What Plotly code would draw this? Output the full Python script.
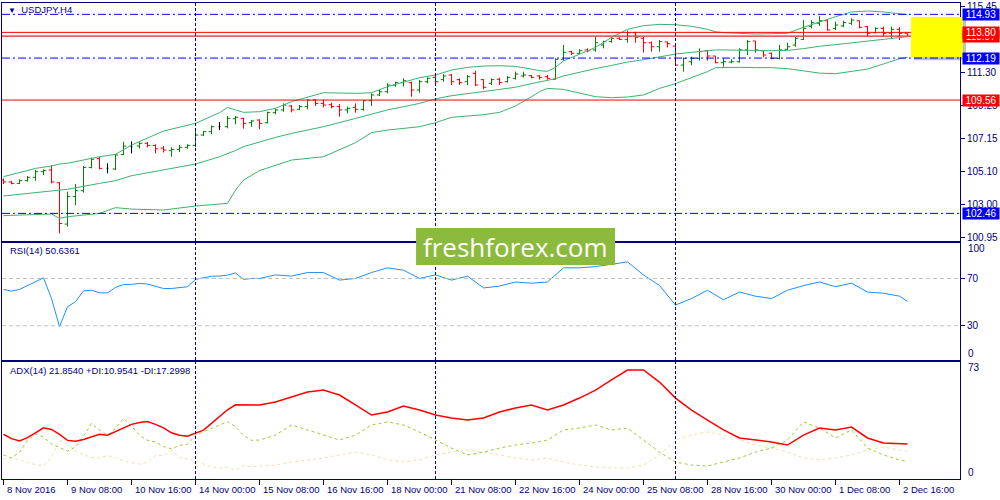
import plotly.graph_objects as go

# ---------------- data ----------------
x_labels = ["8 Nov 2016", "9 Nov 08:00", "10 Nov 16:00", "14 Nov 00:00", "15 Nov 08:00",
            "16 Nov 16:00", "18 Nov 00:00", "21 Nov 08:00", "22 Nov 16:00", "24 Nov 00:00",
            "25 Nov 08:00", "28 Nov 16:00", "30 Nov 00:00", "1 Dec 08:00", "2 Dec 16:00"]
x_label_bars = [0, 8, 16, 24, 32, 40, 48, 56, 64, 72, 80, 88, 96, 104, 112]
week_separators = [24, 54, 84]

opens = [104.55, 104.43, 104.34, 104.51, 104.72, 105.07, 105.18, 104.38, 101.79, 103.51,
         103.88, 105.34, 105.89, 105.29, 105.24, 106.14, 106.64, 106.68, 106.85, 106.72,
         106.55, 106.39, 106.47, 106.60, 106.72, 107.37, 107.58, 107.89, 107.89, 108.39,
         108.41, 108.14, 108.31, 108.14, 108.77, 108.94, 109.19, 108.98, 109.15, 109.56,
         109.35, 109.27, 109.15, 108.94, 109.10, 108.98, 109.52, 109.88, 110.08, 110.50,
         110.65, 110.65, 110.19, 110.71, 110.98, 110.84, 111.13, 110.84, 110.71, 111.23,
         110.84, 110.61, 110.86, 110.71, 110.92, 111.07, 111.09, 111.07, 111.02, 110.86,
         112.11, 112.59, 112.49, 112.70, 112.70, 113.01, 113.22, 113.43, 113.36, 113.78,
         113.43, 113.15, 112.90, 113.20, 112.94, 111.75, 111.96, 112.17, 112.65, 112.32,
         111.90, 111.94, 111.96, 112.70, 113.26, 112.65, 112.49, 112.17, 112.74, 113.01,
         113.36, 114.16, 114.37, 114.53, 114.05, 114.20, 114.37, 114.53, 114.16, 113.78,
         114.05, 113.74, 113.99, 113.74]
highs = [104.65, 104.49, 104.59, 104.80, 105.18, 105.22, 105.47, 104.43, 103.82, 104.30,
         105.43, 105.95, 106.01, 105.60, 106.18, 106.95, 106.97, 106.92, 106.93, 106.79,
         106.68, 106.60, 106.74, 106.79, 107.68, 107.62, 107.97, 108.18, 108.56, 108.56,
         108.46, 108.31, 108.35, 108.83, 109.04, 109.35, 109.25, 109.25, 109.60, 109.63,
         109.60, 109.40, 109.31, 109.15, 109.35, 109.56, 109.98, 110.19, 110.61, 110.71,
         110.92, 110.71, 110.82, 110.98, 111.07, 111.19, 111.19, 110.92, 111.13, 111.40,
         110.86, 110.92, 110.96, 111.07, 111.34, 111.34, 111.13, 111.13, 111.13, 112.17,
         113.01, 112.65, 112.74, 112.80, 113.53, 113.28, 113.49, 113.49, 113.91, 113.84,
         113.53, 113.22, 113.32, 113.22, 113.01, 112.23, 112.28, 112.80, 112.70, 112.32,
         112.17, 112.11, 112.80, 113.32, 113.26, 112.70, 112.53, 113.01, 113.15, 113.53,
         114.57, 114.57, 114.83, 114.57, 114.47, 114.53, 114.68, 114.53, 114.20, 114.12,
         114.16, 114.16, 114.12, 113.74]
lows = [104.30, 104.28, 104.30, 104.45, 104.51, 104.86, 104.34, 101.21, 101.63, 102.98,
        103.76, 105.28, 105.22, 104.97, 105.18, 106.12, 106.22, 106.53, 106.60, 106.22,
        106.28, 106.01, 106.30, 106.51, 106.60, 107.31, 107.43, 107.68, 107.79, 108.04,
        107.77, 107.89, 107.73, 108.10, 108.67, 108.83, 108.79, 108.94, 108.98, 109.19,
        109.10, 109.04, 108.52, 108.73, 108.77, 108.89, 109.19, 109.81, 109.98, 110.40,
        110.40, 109.77, 110.02, 110.61, 110.61, 110.71, 110.50, 110.50, 110.50, 110.44,
        110.23, 110.50, 110.50, 110.65, 110.84, 110.98, 110.92, 110.84, 110.84, 110.84,
        112.03, 112.38, 112.44, 112.55, 112.59, 112.80, 113.15, 113.32, 113.15, 113.15,
        112.53, 112.59, 112.59, 112.86, 111.69, 111.34, 111.75, 112.03, 112.03, 111.86,
        111.65, 111.86, 111.90, 112.38, 112.53, 112.23, 112.11, 112.11, 112.70, 112.90,
        113.32, 114.05, 114.20, 113.91, 113.95, 114.12, 114.26, 114.05, 113.57, 113.74,
        113.57, 113.43, 113.32, 113.53]
closes = [104.43, 104.34, 104.51, 104.72, 105.07, 105.14, 104.43, 101.83, 103.51, 103.88,
          105.34, 105.85, 105.28, 105.29, 106.12, 106.68, 106.64, 106.85, 106.72, 106.51,
          106.43, 106.47, 106.60, 106.72, 107.37, 107.58, 107.89, 107.89, 108.41, 108.48,
          108.10, 108.25, 108.10, 108.77, 108.94, 109.25, 108.94, 109.15, 109.56, 109.35,
          109.25, 109.15, 108.94, 109.04, 108.98, 109.52, 109.88, 110.08, 110.50, 110.65,
          110.77, 110.19, 110.71, 110.92, 110.71, 111.07, 110.71, 110.65, 111.02, 110.50,
          110.36, 110.84, 110.65, 110.98, 111.19, 111.13, 110.98, 110.98, 110.92, 112.11,
          112.55, 112.49, 112.65, 112.65, 113.15, 113.22, 113.43, 113.36, 113.78, 113.49,
          113.15, 112.90, 113.22, 113.09, 111.75, 112.17, 112.17, 112.59, 112.32, 111.90,
          111.96, 111.96, 112.70, 113.22, 112.70, 112.38, 112.17, 112.70, 112.90, 113.43,
          114.05, 114.41, 114.53, 113.95, 114.26, 114.41, 114.57, 114.12, 113.74, 114.05,
          113.74, 113.99, 113.74, 113.55]

band_bars = [0, 4, 6, 7, 8, 12, 14, 16, 20, 24, 27, 28, 29, 30, 32, 34, 36, 40, 44, 46, 48,
             52, 54, 56, 58, 60, 62, 64, 66, 67, 68, 69, 70, 72, 74, 76, 78, 80, 82, 84, 86,
             88, 89, 90, 92, 94, 96, 98, 100, 102, 104, 106, 108, 110, 112, 113]
band_upper = [104.76, 105.28, 105.43, 105.55, 105.60, 106.01, 106.16, 106.74, 107.62, 108.10,
              108.77, 109.10, 108.94, 108.79, 108.83, 109.04, 109.46, 110.02, 109.98, 110.02,
              110.40, 110.96, 111.13, 111.44, 111.61, 111.69, 111.71, 111.67, 111.50, 111.40,
              111.36, 111.61, 112.01, 112.44, 112.86, 113.49, 113.99, 114.22, 114.30, 114.28,
              114.18, 113.99, 113.84, 113.78, 113.72, 113.70, 113.72, 113.74, 114.12, 114.47,
              114.78, 115.08, 115.14, 115.08, 114.95, 114.91]
band_middle = [103.55, 103.76, 103.88, 103.92, 103.97, 104.34, 104.51, 104.82, 105.18, 105.55,
               106.01, 106.18, 106.40, 106.64, 106.95, 107.22, 107.47, 107.89, 108.41, 108.69,
               108.94, 109.35, 109.64, 109.83, 109.96, 110.06, 110.20, 110.36, 110.59, 110.69,
               110.80, 110.90, 111.07, 111.32, 111.53, 111.73, 111.94, 112.09, 112.28, 112.44,
               112.55, 112.65, 112.70, 112.70, 112.70, 112.67, 112.65, 112.67, 112.78, 112.93,
               113.03, 113.15, 113.24, 113.38, 113.49, 113.53]
band_lower = [102.32, 102.36, 102.42, 102.15, 102.25, 102.46, 102.82, 102.73, 102.67, 102.92,
              103.05, 103.09, 103.92, 104.55, 105.14, 105.49, 105.80, 106.01, 106.89, 107.52,
              107.68, 107.89, 108.14, 108.48, 108.56, 108.64, 108.79, 109.19, 109.77, 110.09,
              110.29, 110.27, 110.23, 110.00, 109.77, 109.71, 109.75, 109.88, 110.29, 110.59,
              110.98, 111.34, 111.59, 111.61, 111.61, 111.59, 111.59, 111.53, 111.40, 111.25,
              111.21, 111.36, 111.50, 111.82, 112.15, 112.24]

rsi_bars = list(range(0, 32)) + list(range(32, 113, 2)) + [113]
rsi_vals = [60.7, 59.3, 60.7, 63.8, 67.1, 70.5, 53.1, 29.2, 46.1, 50.3,
            59.5, 60.1, 57.8, 57.8, 62.4, 64.9, 65.0, 65.8, 65.3, 63.5,
            61.5, 61.5, 62.4, 63.0, 69.2, 70.8, 71.9, 72.0, 72.8, 74.7, 69.2, 70.0,
            70.0, 73.0, 72.0, 75.0, 75.0, 68.6, 70.0, 75.0, 79.0, 77.0,
            70.0, 73.0, 68.6, 72.0, 62.0, 63.5, 67.0, 66.0, 67.0, 79.0,
            79.0, 80.0, 82.0, 84.0, 73.0, 64.0, 47.5, 53.0, 60.0, 52.0,
            58.5, 55.0, 53.0, 60.0, 64.0, 67.0, 63.0, 66.0, 58.5, 57.5, 55.0, 50.6]

adx_bars = list(range(0, 32)) + list(range(32, 113, 2)) + [113]
adx_vals = [27.9, 25.2, 23.7, 25.8, 28.8, 31.9, 30.9, 27.9, 24.1, 23.5,
            24.6, 26.2, 27.9, 27.3, 29.4, 31.5, 34.1, 35.3, 35.8, 34.1,
            31.9, 28.8, 27.3, 26.7, 28.8, 30.5, 34.7, 38.9, 43.2, 46.3, 46.3, 46.3,
            46.2, 48.0, 51.2, 54.3, 55.5, 52.4, 46.2, 39.9, 41.8, 45.5,
            43.0, 39.9, 38.1, 36.8, 38.1, 41.8, 44.3, 46.2, 43.0, 46.2,
            50.5, 55.5, 61.8, 68.0, 68.0, 60.5, 50.5, 43.0, 36.8, 30.6,
            25.6, 24.3, 23.1, 21.2, 27.4, 31.8, 30.6, 32.4, 25.6, 22.5, 21.8, 21.85]
pdi_vals = [15.0, 13.1, 16.7, 24.1, 27.9, 26.2, 22.0, 19.5, 17.4, 19.9,
            26.7, 34.7, 30.5, 27.3, 31.5, 37.9, 33.0, 27.3, 24.1, 23.1,
            20.3, 18.8, 21.0, 21.6, 27.3, 29.4, 31.5, 33.7, 35.8, 32.6, 27.3, 24.1,
            24.3, 27.4, 33.7, 30.6, 27.4, 24.3, 27.4, 33.7, 35.6, 33.7,
            29.3, 24.3, 19.3, 15.0, 16.8, 19.3, 21.2, 22.5, 24.3, 30.6,
            31.8, 33.7, 30.6, 31.8, 24.3, 16.8, 10.6, 8.7, 8.1, 10.6,
            13.1, 16.8, 19.3, 24.3, 35.6, 31.8, 25.6, 30.6, 19.3, 15.0, 11.9, 10.95]
mdi_vals = [12.5, 13.5, 11.9, 10.4, 8.9, 8.3, 13.5, 24.1, 22.0, 17.8,
            15.2, 13.5, 13.1, 14.6, 13.5, 11.4, 10.4, 9.3, 10.4, 14.6,
            14.6, 17.8, 13.5, 12.5, 11.4, 9.3, 7.6, 6.8, 7.2, 5.5, 8.3, 7.6,
            8.1, 8.7, 10.6, 11.9, 13.1, 15.0, 16.8, 15.0, 11.9, 10.6,
            11.9, 15.0, 16.8, 18.1, 16.8, 15.0, 13.1, 11.9, 13.1, 10.6,
            8.7, 7.5, 6.9, 6.9, 8.7, 15.0, 24.3, 27.4, 29.3, 27.4,
            24.3, 21.2, 19.3, 16.8, 13.1, 11.9, 13.1, 15.0, 18.1, 20.0, 18.1, 17.3]

price_ticks = [115.45, 113.40, 111.30, 109.25, 107.15, 105.10, 103.00, 100.95]
blue_levels = [114.93, 112.19, 102.46]
red_levels = [113.57, 113.80, 109.56]
bid_price = 113.54
zone_low, zone_high = 112.26, 114.76

# ---------------- style ----------------
NAVY = "#000080"
FONT = "Liberation Sans"
GREEN_BAR = "#0A7D0A"
RED_BAR = "#FF0000"
BAND = "#3CB371"
XR = [-0.1875, 119.5625]

fig = go.Figure()

n = len(opens)
up = [i for i in range(n) if closes[i] > opens[i]]
dn = [i for i in range(n) if closes[i] < opens[i]]
dj = [i for i in range(n) if closes[i] == opens[i]]


def ohlc_trace(sel, color, tw):
    return go.Ohlc(x=sel, open=[opens[i] for i in sel], high=[highs[i] for i in sel],
                   low=[lows[i] for i in sel], close=[closes[i] for i in sel],
                   increasing=dict(line=dict(color=color, width=1)),
                   decreasing=dict(line=dict(color=color, width=1)),
                   tickwidth=tw, xaxis="x", yaxis="y", hoverinfo="skip", showlegend=False)


for vals in (band_upper, band_middle, band_lower):
    fig.add_trace(go.Scatter(x=band_bars, y=vals, mode="lines", line=dict(color=BAND, width=1),
                             xaxis="x", yaxis="y", hoverinfo="skip", showlegend=False))
fig.add_trace(ohlc_trace(up, GREEN_BAR, 0.35))
fig.add_trace(ohlc_trace(dn, RED_BAR, 0.35))
fig.add_trace(ohlc_trace(dj, "#000000", 0.12))

fig.add_trace(go.Scatter(x=rsi_bars, y=rsi_vals, mode="lines", line=dict(color="#1E90FF", width=1),
                         xaxis="x2", yaxis="y2", hoverinfo="skip", showlegend=False))

fig.add_trace(go.Scatter(x=adx_bars, y=mdi_vals, mode="lines",
                         line=dict(color="#F5DEB3", width=1, dash="3px,3px"),
                         xaxis="x3", yaxis="y3", hoverinfo="skip", showlegend=False))
fig.add_trace(go.Scatter(x=adx_bars, y=pdi_vals, mode="lines",
                         line=dict(color="#9ACD32", width=1, dash="3px,3px"),
                         xaxis="x3", yaxis="y3", hoverinfo="skip", showlegend=False))
fig.add_trace(go.Scatter(x=adx_bars, y=adx_vals, mode="lines", line=dict(color="#FF0000", width=1.5),
                         xaxis="x3", yaxis="y3", hoverinfo="skip", showlegend=False))

# panel geometry (pixels -> paper)
H_TOP, H_BOT = 3, 479


def dom(top_px, bot_px):
    span = H_BOT - H_TOP
    return [(H_BOT - bot_px) / span, (H_BOT - top_px) / span]


axis_common = dict(showline=True, mirror=True, linecolor=NAVY, linewidth=1,
                   showgrid=False, zeroline=False, fixedrange=True)
tick_font = dict(family=FONT, size=10, color=NAVY)

fig.update_layout(
    width=1000, height=500, autosize=False,
    margin=dict(l=2, r=40, t=H_TOP, b=500 - H_BOT),
    paper_bgcolor="white", plot_bgcolor="white",
    font=dict(family=FONT, size=10, color=NAVY),
    showlegend=False,
    xaxis=dict(domain=[0, 1], range=XR, anchor="y", showticklabels=False, ticks="",
               rangeslider=dict(visible=False), **axis_common),
    yaxis=dict(domain=dom(3, 241), range=[100.73, 115.64], anchor="x", side="right",
               tickvals=price_ticks, ticktext=[f"{v:.2f}" for v in price_ticks],
               ticks="outside", ticklen=4, tickcolor=NAVY, tickfont=tick_font, **axis_common),
    xaxis2=dict(domain=[0, 1], range=XR, anchor="y2", showticklabels=False, ticks="", **axis_common),
    yaxis2=dict(domain=dom(243, 360), range=[1, 100], anchor="x2", side="right",
                tickvals=[70, 30], ticktext=["70", "30"], ticks="outside", ticklen=4, tickcolor=NAVY,
                tickfont=tick_font, **axis_common),
    xaxis3=dict(domain=[0, 1], range=XR, anchor="y3", showticklabels=False,
                tickvals=x_label_bars, ticks="outside", ticklen=5, tickcolor=NAVY, **axis_common),
    yaxis3=dict(domain=dom(362, 479), range=[0, 73], anchor="x3", side="right",
                tickvals=[], ticks="", **axis_common),
)

shapes = []
# weekly separators in each panel
for xa, ya in (("x", "y"), ("x2", "y2"), ("x3", "y3")):
    for b in week_separators:
        shapes.append(dict(type="line", xref=xa, yref=f"{ya} domain", x0=b, x1=b, y0=0, y1=1,
                           line=dict(color=NAVY, width=1, dash="3px,2px")))
# RSI levels
for lv in (70, 30):
    shapes.append(dict(type="line", xref="x2 domain", yref="y2", x0=0, x1=1, y0=lv, y1=lv,
                       line=dict(color="#C0C0C0", width=1, dash="4px,3px")))
# price levels
shapes.append(dict(type="line", xref="x domain", yref="y", x0=0, x1=1, y0=bid_price, y1=bid_price,
                   line=dict(color="#C8C8C8", width=1)))
for lv in blue_levels:
    shapes.append(dict(type="line", xref="x domain", yref="y", x0=0, x1=1, y0=lv, y1=lv,
                       line=dict(color="#0000FF", width=1, dash="8px,3px,2px,3px")))
for lv in red_levels:
    shapes.append(dict(type="line", xref="x domain", yref="y", x0=0, x1=1, y0=lv, y1=lv,
                       line=dict(color="#FF0000", width=1)))
# highlighted zone (with shadow)
shapes.append(dict(type="rect", xref="paper", yref="y", x0=0.9520, x1=1.0062,
                   y0=zone_low - 0.2, y1=zone_high - 0.17, fillcolor="rgba(0,0,0,0.25)",
                   line=dict(width=0)))
shapes.append(dict(type="rect", xref="paper", yref="y", x0=0.9489, x1=1.0031,
                   y0=zone_low, y1=zone_high, fillcolor="#FFFF00", line=dict(width=0)))
# watermark box
shapes.append(dict(type="rect", xref="paper", yref="paper", x0=0.4322, x1=0.6399,
                   y0=0.4496, y1=0.5273, fillcolor="#8CBA3C", line=dict(width=0), layer="above"))
fig.update_layout(shapes=shapes)

ann = []
for b, t in zip(x_label_bars, x_labels):
    ann.append(dict(x=b, xref="x3", y=0, yref="paper", yanchor="top", xanchor="left",
                    xshift=1, yshift=-3, text=t, showarrow=False,
                    font=dict(family=FONT, size=9.5, color=NAVY)))

# right-side price labels
label_levels = [(113.57, "#FF0000"), (114.93, "#0000FF"), (113.80, "#FF0000"),
                (112.19, "#0000FF"), (109.56, "#FF0000"), (102.46, "#0000FF")]
for lv, col in label_levels:
    ann.append(dict(x=1, xref="paper", xanchor="left", xshift=2, y=lv, yref="y", yanchor="middle",
                    text=f"{lv:.2f}", showarrow=False, bgcolor=col, width=36, height=11,
                    borderpad=0, font=dict(family=FONT, size=10, color="white")))

# fixed indicator scale labels
for txt, yp in (("100", 0.4832), ("0", 0.2647), ("73", 0.2332), ("0", 0.0147)):
    ann.append(dict(x=1, xref="paper", xanchor="left", xshift=6, y=yp, yref="paper",
                    yanchor="middle", text=txt, showarrow=False,
                    font=dict(family=FONT, size=10, color=NAVY)))

# panel titles
ann.append(dict(x=0.004, xref="paper", y=0.9853, yref="paper", xanchor="left", yanchor="middle",
                text="<span style='font-size:8px'>▼</span>  USDJPY,H4", showarrow=False,
                font=dict(family=FONT, size=9.5, color=NAVY)))
ann.append(dict(x=0.006, xref="paper", y=0.479, yref="paper", xanchor="left", yanchor="middle",
                text="RSI(14) 50.6361", showarrow=False,
                font=dict(family=FONT, size=9.5, color=NAVY)))
ann.append(dict(x=0.006, xref="paper", y=0.2269, yref="paper", xanchor="left", yanchor="middle",
                text="ADX(14) 21.8540 +DI:10.9541 -DI:17.2998", showarrow=False,
                font=dict(family=FONT, size=9.5, color=NAVY)))
# watermark text
ann.append(dict(x=0.5355, xref="paper", y=0.4874, yref="paper", xanchor="center", yanchor="middle",
                text="freshforex.com", showarrow=False,
                font=dict(family="Open Sans", size=26, color="white")))
fig.update_layout(annotations=ann)

fig.write_html("out.html", config={"displayModeBar": False, "staticPlot": True},
               post_script="document.body.style.margin='0';document.body.style.overflow='hidden';")
